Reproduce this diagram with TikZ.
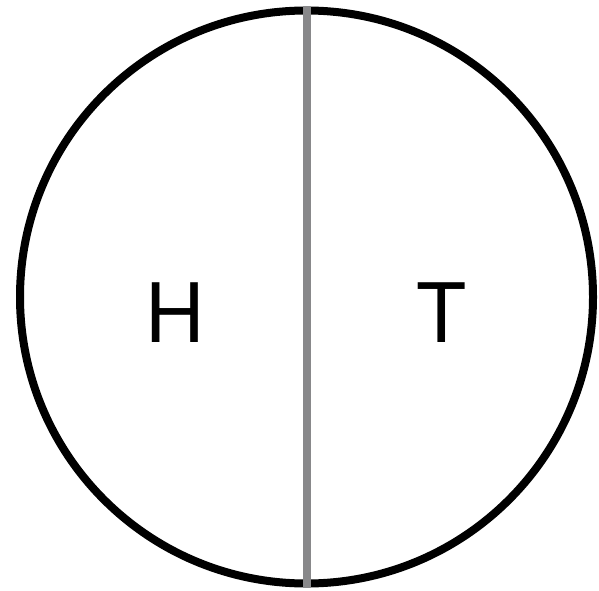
\documentclass[tikz,border=0pt]{standalone}
\usepackage{fontspec}
\setmainfont{TeX Gyre Heros}
\begin{document}
\begin{tikzpicture}[x=1pt,y=1pt,
  coin/.style={draw=black,line width=8pt,circle,minimum size=573pt,inner sep=0pt},
  divider/.style={draw={rgb,255:red,136;green,136;blue,138},line width=7.5pt},
  face/.style={inner sep=0pt,font=\fontsize{82}{82}\selectfont}]
\useasboundingbox (0,0) rectangle (599,590);
\node[coin] (c) at (306.5,293) {};
\coordinate (top) at (307,583.5);
\coordinate (bot) at (307,2.5);
\draw[divider] (top) -- (bot);
\node[face] (h) at (175,277.5) {H};
\node[face] (t) at (441.5,277.5) {T};
\end{tikzpicture}
\end{document}
